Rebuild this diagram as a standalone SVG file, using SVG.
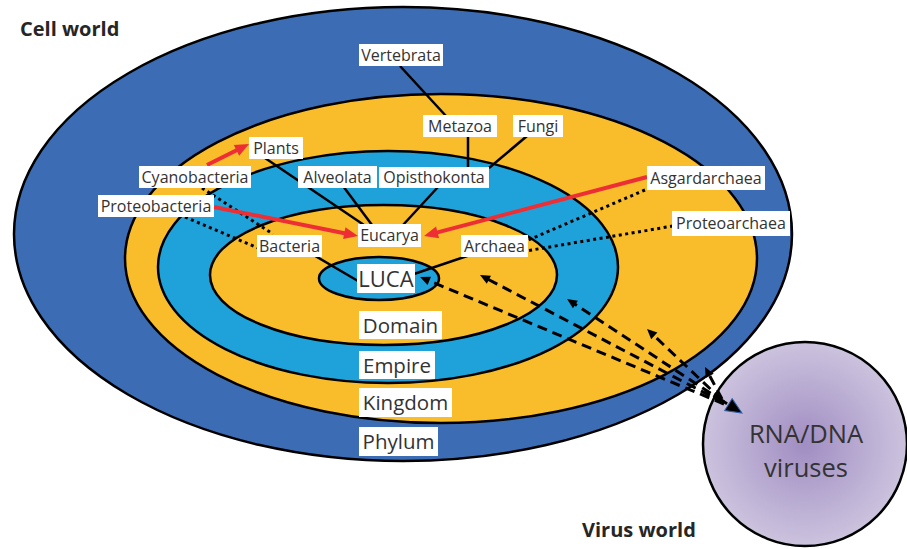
<svg xmlns="http://www.w3.org/2000/svg" width="907" height="549" viewBox="0 0 907 549">
<defs>
<style>
.ring{stroke:#000;stroke-width:2.5}
.lbl rect{fill:#fff}
.s{font-family:"Open Sans","Liberation Sans",sans-serif;font-size:16px;fill:#333;text-anchor:middle}
.b{font-family:"Open Sans","Liberation Sans",sans-serif;font-size:20.5px;fill:#333;text-anchor:middle}
.title{font-family:"Open Sans","Liberation Sans",sans-serif;font-size:20px;font-weight:bold;fill:#262626}
.solid{stroke:#000;stroke-width:2.5;fill:none}
.dot{stroke:#000;stroke-width:3;fill:none;stroke-dasharray:3 3.5}
.red{stroke:#EE2E35;stroke-width:4;fill:none;marker-end:url(#rh)}
.dash{stroke:#000;stroke-width:3;fill:none;stroke-dasharray:10 6;marker-end:url(#bh)}
</style>
<marker id="rh" markerUnits="userSpaceOnUse" markerWidth="16" markerHeight="14" refX="4" refY="6" orient="auto" overflow="visible"><path d="M0,0 L14,6 L0,12 z" fill="#EE2E35"/></marker>
<marker id="bh" markerUnits="userSpaceOnUse" markerWidth="12" markerHeight="10" refX="3" refY="4.5" orient="auto" overflow="visible"><path d="M0,0 L10,4.5 L0,9 z" fill="#000"/></marker>
<marker id="vh" markerUnits="userSpaceOnUse" markerWidth="18" markerHeight="16" refX="4" refY="7" orient="auto" overflow="visible"><path d="M0,0 L16,7 L0,14 z" fill="#000" stroke="#2E5FA8" stroke-width="1"/></marker>
<radialGradient id="vg" cx="0.5" cy="0.5" r="0.5"><stop offset="0" stop-color="#A08DC2"/><stop offset="1" stop-color="#CCC3DE"/></radialGradient>
</defs>
<rect width="907" height="549" fill="#fff"/>
<g id="rings">
<ellipse id="phylum-ring" class="ring" cx="403" cy="234" rx="389" ry="227" fill="#3C6DB4"/>
<ellipse id="kingdom-ring" class="ring" cx="441" cy="258.5" rx="316" ry="164.5" fill="#F9BC2A"/>
<ellipse id="empire-ring" class="ring" cx="388" cy="267" rx="230" ry="116" fill="#1FA2DA"/>
<ellipse id="domain-ring" class="ring" cx="383.5" cy="275" rx="173.5" ry="70" fill="#F9BC2A"/>
<ellipse id="luca-ring" class="ring" cx="379" cy="278.5" rx="60" ry="21.5" fill="#1FA2DA"/>
</g>
<g id="virus">
<circle cx="805" cy="444" r="102" fill="url(#vg)" stroke="#000" stroke-width="2.5"/>
<text class="b" style="font-size:25.5px" x="806" y="443">RNA/DNA</text>
<text class="b" style="font-size:25.5px" x="806" y="477">viruses</text>
</g>
<g id="connectors">
<line class="solid" x1="400" y1="66" x2="446" y2="116"/>
<line class="solid" x1="468" y1="136" x2="468" y2="168"/>
<line class="solid" x1="527" y1="136" x2="489" y2="168"/>
<line class="solid" x1="438" y1="187" x2="403" y2="225"/>
<line class="solid" x1="343" y1="186" x2="372" y2="225"/>
<line class="solid" x1="265" y1="158" x2="364" y2="225"/>
<line class="solid" x1="300" y1="247" x2="358" y2="281"/>
<line class="solid" x1="470" y1="255" x2="414" y2="274"/>
<line class="dot" x1="202" y1="188" x2="273" y2="234"/>
<line class="dot" x1="185" y1="217" x2="258" y2="248"/>
<line class="dot" x1="645" y1="190" x2="526" y2="241"/>
<line class="dot" x1="673" y1="226" x2="526" y2="251"/>
<line class="red" x1="207" y1="165" x2="240.1" y2="148.5"/>
<line class="red" x1="214" y1="207" x2="348.2" y2="234"/>
<line class="red" x1="647" y1="177" x2="433.7" y2="233.4"/>
<line class="dash" x1="724" y1="404" x2="426.5" y2="279.7"/>
<line class="dash" x1="724" y1="403" x2="486.2" y2="278.3"/>
<line class="dash" x1="724" y1="402" x2="572.9" y2="302.8"/>
<line class="dash" x1="722" y1="400" x2="652.1" y2="333.8"/>
<line class="dash" x1="722" y1="399" x2="708.3" y2="373.2"/>
<line stroke="#000" stroke-width="3" stroke-dasharray="6 4" x1="705" y1="390" x2="731.8" y2="406.7" marker-end="url(#vh)"/>
</g>
<g id="Vertebrata" class="lbl"><rect x="359" y="44" width="84" height="22"/><text class="s" x="401" y="60.5">Vertebrata</text></g>
<g id="Metazoa" class="lbl"><rect x="423" y="115" width="74" height="22"/><text class="s" x="460" y="131.5">Metazoa</text></g>
<g id="Fungi" class="lbl"><rect x="513" y="115" width="50" height="22"/><text class="s" x="538" y="131.5">Fungi</text></g>
<g id="Opisthokonta" class="lbl"><rect x="379" y="167" width="110" height="21"/><text class="s" x="434" y="183">Opisthokonta</text></g>
<g id="Alveolata" class="lbl"><rect x="298" y="166" width="79" height="22"/><text class="s" x="337.5" y="182.5">Alveolata</text></g>
<g id="Plants" class="lbl"><rect x="249" y="137" width="54" height="22"/><text class="s" x="276" y="153.5">Plants</text></g>
<g id="Cyanobacteria" class="lbl"><rect x="139" y="166" width="112" height="22"/><text class="s" x="195" y="182.5">Cyanobacteria</text></g>
<g id="Proteobacteria" class="lbl"><rect x="98" y="195" width="116" height="22"/><text class="s" x="156" y="211.5">Proteobacteria</text></g>
<g id="Bacteria" class="lbl"><rect x="257" y="235" width="65" height="22"/><text class="s" x="289.5" y="251.5">Bacteria</text></g>
<g id="Eucarya" class="lbl"><rect x="358" y="224" width="63" height="23"/><text class="s" x="389.5" y="241">Eucarya</text></g>
<g id="Archaea" class="lbl"><rect x="461" y="235" width="67" height="22"/><text class="s" x="494.5" y="251.5">Archaea</text></g>
<g id="Asgardarchaea" class="lbl"><rect x="647" y="166" width="118" height="24"/><text class="s" x="706" y="183.5">Asgardarchaea</text></g>
<g id="Proteoarchaea" class="lbl"><rect x="672" y="211" width="118" height="25"/><text class="s" x="731" y="229">Proteoarchaea</text></g>
<g id="LUCA" class="lbl"><rect x="357" y="264" width="58" height="29"/><text class="b" style="font-size:22px" x="386" y="286.5">LUCA</text></g>
<g id="Domain" class="lbl"><rect x="359" y="311" width="83" height="28"/><text class="b" x="400.5" y="332.5">Domain</text></g>
<g id="Empire" class="lbl"><rect x="359" y="351" width="76" height="28"/><text class="b" x="397" y="372.5">Empire</text></g>
<g id="Kingdom" class="lbl"><rect x="359" y="388" width="93" height="29"/><text class="b" x="405.5" y="410">Kingdom</text></g>
<g id="Phylum" class="lbl"><rect x="359" y="427" width="79" height="29"/><text class="b" x="398.5" y="449">Phylum</text></g>
<text class="title" x="20" y="36">Cell world</text>
<text class="title" x="582" y="537">Virus world</text>
</svg>
